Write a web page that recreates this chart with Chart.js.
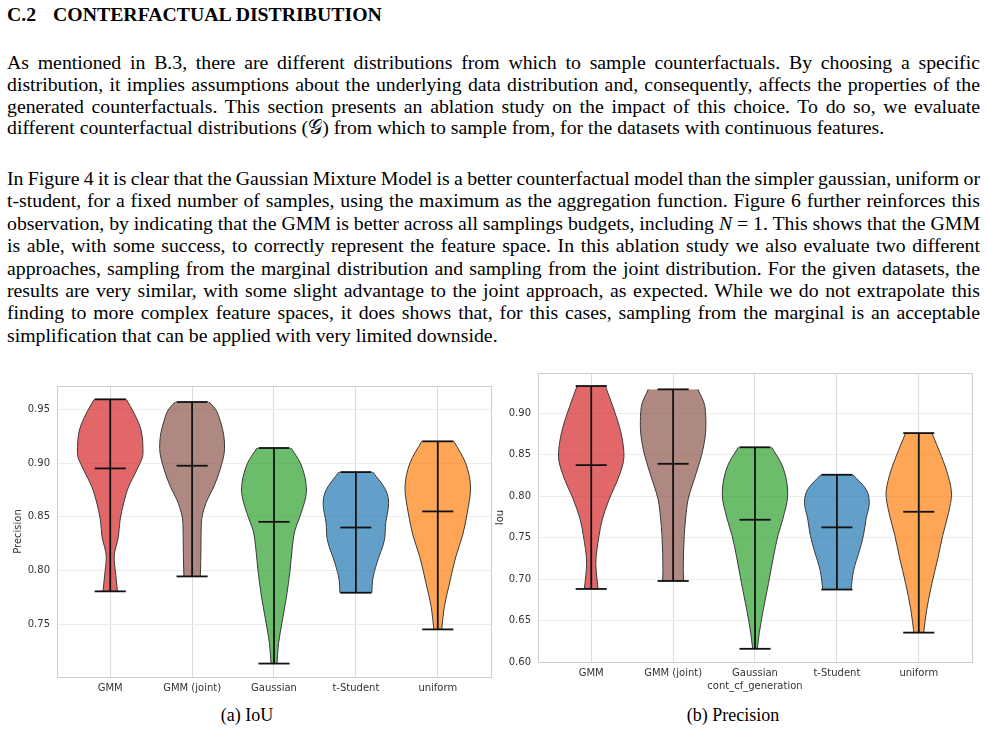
<!DOCTYPE html>
<html>
<head>
<meta charset="utf-8">
<script src="https://cdn.jsdelivr.net/npm/chart.js@4.4.1/dist/chart.umd.min.js"></script>
<style>
  body { margin: 0; background: #fff; }
  #page { position: relative; width: 987px; height: 730px; overflow: hidden; font-family: 'Liberation Serif', 'Times New Roman', serif; color: #000; }
  .h { position: absolute; left: 7px; top: 2px; font-weight: bold; font-size: 19.8px; line-height: 24px; white-space: nowrap; }
  .h span { display: inline-block; width: 46px; }
  .p { position: absolute; left: 7px; width: 973px; font-size: 19.8px; }
  .p div { white-space: nowrap; }
  .p1 div { height: 21.8px; line-height: 21.8px; }
  .p2 div { height: 22.4px; line-height: 22.4px; }
  .cap { position: absolute; font-size: 18px; line-height: 20px; white-space: nowrap; transform: translateX(-50%); }
  canvas { position: absolute; }
</style>
</head>
<body>
<div id="page">
  <div class="h"><span>C.2</span>CONTERFACTUAL DISTRIBUTION</div>

  <div class="p p1" style="top:52px">
    <div><span class="j">As mentioned in B.3, there are different distributions from which to sample counterfactuals. By choosing a specific</span></div>
    <div><span class="j">distribution, it implies assumptions about the underlying data distribution and, consequently, affects the properties of the</span></div>
    <div><span class="j">generated counterfactuals. This section presents an ablation study on the impact of this choice. To do so, we evaluate</span></div>
    <div><span>different counterfactual distributions (𝒢) from which to sample from, for the datasets with continuous features.</span></div>
  </div>

  <div class="p p2" style="top:167px">
    <div><span class="j">In Figure 4 it is clear that the Gaussian Mixture Model is a better counterfactual model than the simpler gaussian, uniform or</span></div>
    <div><span class="j">t-student, for a fixed number of samples, using the maximum as the aggregation function. Figure 6 further reinforces this</span></div>
    <div><span class="j">observation, by indicating that the GMM is better across all samplings budgets, including <i>N</i>&#8197;=&#8197;1. This shows that the GMM</span></div>
    <div><span class="j">is able, with some success, to correctly represent the feature space. In this ablation study we also evaluate two different</span></div>
    <div><span class="j">approaches, sampling from the marginal distribution and sampling from the joint distribution. For the given datasets, the</span></div>
    <div><span class="j">results are very similar, with some slight advantage to the joint approach, as expected. While we do not extrapolate this</span></div>
    <div><span class="j">finding to more complex feature spaces, it does shows that, for this cases, sampling from the marginal is an acceptable</span></div>
    <div><span>simplification that can be applied with very limited downside.</span></div>
  </div>

  <canvas id="chartA" width="495" height="330" style="left:0;top:370px"></canvas>
  <canvas id="chartB" width="497" height="340" style="left:490px;top:360px"></canvas>

  <div class="cap" style="left:247px;top:705px">(a) IoU</div>
  <div class="cap" style="left:733px;top:705px">(b) Precision</div>
</div>

<script>
// justify each full line by spreading the words
document.querySelectorAll('.j').forEach(el => {
  const target = el.parentNode.clientWidth;
  const spaces = (el.textContent.match(/ /g) || []).length;
  const natural = el.getBoundingClientRect().width;
  el.style.wordSpacing = ((target - natural) / spaces) + 'px';
});

const categories = ['GMM', 'GMM (joint)', 'Gaussian', 't-Student', 'uniform'];

// (a) left panel, y axis "Precision"
const aTicks = [0.75, 0.80, 0.85, 0.90, 0.95];
const aMin  = [0.7806, 0.7945, 0.7134, 0.7793, 0.7452];
const aMax  = [0.9593, 0.9568, 0.9140, 0.8916, 0.9202];
const aMean = [0.895, 0.8975, 0.8453, 0.840, 0.855];
const aLevels = [
  [0.9593, 0.9463, 0.9307, 0.9090, 0.8935, 0.8779, 0.8628, 0.8469, 0.8314, 0.8125, 0.7957, 0.7806],
  [0.9568, 0.9493, 0.9400, 0.9250, 0.9137, 0.8935, 0.8779, 0.8625, 0.8439, 0.8190, 0.7945],
  [0.9140, 0.8997, 0.8749, 0.8500, 0.8376, 0.8190, 0.8004, 0.7755, 0.7510, 0.7324, 0.7134],
  [0.8916, 0.8749, 0.8625, 0.8441, 0.8283, 0.8069, 0.7911, 0.7793],
  [0.9202, 0.9000, 0.8767, 0.8535, 0.8330, 0.8128, 0.7883, 0.7662, 0.7452]
];
const aDensity = [
  [0.49, 0.73, 0.94, 1.00, 0.81, 0.56, 0.41, 0.30, 0.25, 0.12, 0.17, 0.22],
  [0.52, 0.73, 0.85, 0.97, 0.99, 0.85, 0.66, 0.42, 0.28, 0.27, 0.25],
  [0.52, 0.81, 0.99, 0.79, 0.64, 0.55, 0.49, 0.38, 0.24, 0.14, 0.09],
  [0.52, 0.91, 1.00, 0.91, 0.87, 0.64, 0.51, 0.49],
  [0.49, 0.85, 1.00, 0.90, 0.76, 0.55, 0.36, 0.20, 0.12]
];

// (b) right panel, y axis "Iou"
const bTicks = [0.60, 0.65, 0.70, 0.75, 0.80, 0.85, 0.90];
const bMin  = [0.6880, 0.6976, 0.6159, 0.6873, 0.6354];
const bMax  = [0.9325, 0.9285, 0.8587, 0.8256, 0.8758];
const bMean = [0.8372, 0.8388, 0.7714, 0.7622, 0.7810];
const bLevels = [
  [0.9325, 0.9078, 0.8758, 0.8480, 0.8240, 0.7962, 0.7723, 0.7523, 0.7184, 0.7024, 0.6880],
  [0.9285, 0.9078, 0.8839, 0.8560, 0.8280, 0.7962, 0.7723, 0.7523, 0.7104, 0.6976],
  [0.8587, 0.8360, 0.8025, 0.7723, 0.7523, 0.7263, 0.6945, 0.6626, 0.6347, 0.6159],
  [0.8256, 0.8081, 0.7921, 0.7723, 0.7523, 0.7343, 0.7104, 0.6873],
  [0.8758, 0.8480, 0.8240, 0.8022, 0.7801, 0.7523, 0.7263, 0.6945, 0.6626, 0.6354]
];
const bDensity = [
  [0.43, 0.66, 0.91, 1.00, 0.85, 0.55, 0.34, 0.24, 0.14, 0.17, 0.21],
  [0.76, 0.97, 1.00, 0.91, 0.71, 0.46, 0.38, 0.34, 0.31, 0.32],
  [0.51, 0.84, 1.00, 0.85, 0.70, 0.56, 0.41, 0.25, 0.13, 0.07],
  [0.49, 0.89, 0.99, 0.89, 0.81, 0.69, 0.51, 0.43],
  [0.40, 0.69, 0.90, 1.00, 0.91, 0.73, 0.59, 0.40, 0.24, 0.15]
];

const fills = ['rgba(214,39,40,0.7)', 'rgba(140,86,75,0.7)', 'rgba(44,160,44,0.7)', 'rgba(31,119,180,0.7)', 'rgba(255,127,14,0.7)'];
const HALF = 0.4;   // max half width of a violin, in category units
const CAP = 0.19;   // half length of the min / max / mean bars

Chart.defaults.font.family = 'DejaVu Sans';
Chart.defaults.font.size = 10;
Chart.defaults.color = '#333';

function violins(levels, density, mins, maxs, means) {
  const sets = [];
  categories.forEach((c, i) => {
    const bar = { borderColor: '#111', borderWidth: 1.8, pointRadius: 0, fill: false, order: 0 };
    sets.push({ ...bar, data: [{ x: i, y: mins[i] }, { x: i, y: maxs[i] }] });
    [mins, maxs, means].forEach(arr => sets.push({ ...bar, data: [{ x: i - CAP, y: arr[i] }, { x: i + CAP, y: arr[i] }] }));
    [1, -1].forEach(side => sets.push({
      data: levels[i].map((v, k) => ({ x: i + side * HALF * density[i][k], y: v })),
      borderColor: '#3a3a3a', borderWidth: 1, backgroundColor: fills[i],
      fill: { value: i }, pointRadius: 0, cubicInterpolationMode: 'monotone', order: 1
    }));
  });
  return sets;
}

const frame = {
  id: 'frame',
  afterDraw(chart) {
    const { ctx, chartArea: a } = chart;
    ctx.save();
    ctx.strokeStyle = '#cdcdcd';
    ctx.lineWidth = 1;
    ctx.strokeRect(Math.round(a.left) + 0.5, Math.round(a.top) + 0.5, Math.round(a.right - a.left), Math.round(a.bottom - a.top));
    ctx.restore();
  }
};

function makeChart(id, sets, o) {
  return new Chart(document.getElementById(id), {
    type: 'line',
    data: { datasets: sets },
    plugins: [frame],
    options: {
      responsive: false, animation: false, indexAxis: 'y',
      layout: { padding: o.padding },
      plugins: { legend: { display: false }, tooltip: { enabled: false } },
      scales: {
        x: {
          type: 'linear', min: -0.65, max: 4.65,
          afterBuildTicks: s => { s.ticks = categories.map((c, i) => ({ value: i })); },
          afterFit: s => { s.height = o.xh; },
          ticks: { callback: v => categories[v], padding: 5, maxRotation: 0, autoSkip: false },
          grid: { color: '#dcdcdc', drawTicks: false },
          border: { display: false },
          title: { display: !!o.xTitle, text: o.xTitle, padding: { top: 2, bottom: 8 } }
        },
        y: {
          type: 'linear', min: o.yMin, max: o.yMax,
          afterBuildTicks: s => { s.ticks = o.ticks.map(v => ({ value: v })); },
          afterFit: s => { s.width = o.yw; },
          ticks: { callback: v => v.toFixed(2), padding: 7 },
          grid: { color: '#ececec', drawTicks: false },
          border: { display: false },
          title: { display: true, text: o.yTitle }
        }
      }
    }
  });
}

makeChart('chartA', violins(aLevels, aDensity, aMin, aMax, aMean), {
  padding: { left: 8, top: 16, right: 4, bottom: 0 }, xh: 23, yw: 49,
  yMin: 0.7009, yMax: 0.9717, ticks: aTicks, yTitle: 'Precision', xTitle: ''
});

makeChart('chartB', violins(bLevels, bDensity, bMin, bMax, bMean), {
  padding: { left: 0, top: 11, right: 15, bottom: 0 }, xh: 38, yw: 48,
  yMin: 0.60, yMax: 0.9482, ticks: bTicks, yTitle: 'Iou', xTitle: 'cont_cf_generation'
});
</script>
</body>
</html>
